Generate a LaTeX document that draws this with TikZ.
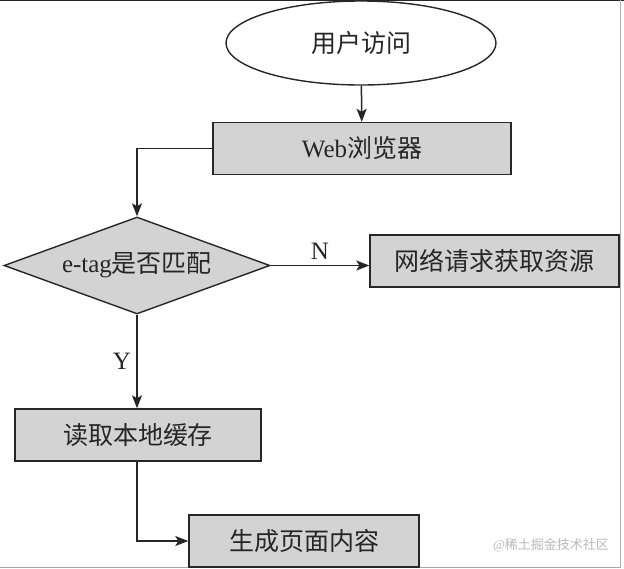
\documentclass[tikz,border=0pt]{standalone}
\usepackage{fontspec}
\usepackage{tikz}
\usetikzlibrary{shapes.geometric,arrows.meta}
\setmainfont{Liberation Serif}
\newfontfamily\cjk{Noto Sans CJK SC}
\definecolor{boxgray}{HTML}{D3D3D3}
\definecolor{linegray}{HTML}{262626}

\begin{document}
\begin{tikzpicture}[x=1pt,y=-1pt,
    every node/.style={font=\fontsize{25}{30}\selectfont,text=linegray},
    procbox/.style={shape=rectangle,draw=linegray,fill=boxgray,line width=1.4pt,minimum height=52pt},
    decision/.style={shape=diamond,draw=linegray,fill=boxgray,line width=1.4pt,aspect=2.74,inner sep=0pt,minimum width=266pt,minimum height=97pt},
    startnode/.style={shape=ellipse,draw=linegray,line width=1.4pt,minimum width=270pt,minimum height=84pt},
    flow/.style={draw=linegray,line width=1.5pt,-{Stealth[length=13pt,width=10pt,inset=3pt]}}]
      \useasboundingbox (0,0) rectangle (624,568);
      % frame of the picture
      \draw[line width=1.5pt,linegray] (0,0.5) -- (624,0.5);
      \draw[line width=1pt,gray!60] (620,0) -- (620,568);
      \draw[line width=1pt,gray!70] (0,567.5) -- (620,567.5);

      \node[startnode](visit) at (361,43) {\cjk 用户访问};
      \node[procbox,minimum width=298pt](web) at (362,148.5) {Web{\cjk 浏览器}};
      \node[decision](match) at (137,265.5) {e-tag{\cjk 是否匹配}};
      \node[procbox,minimum width=249pt](fetch) at (494.5,261) {\cjk 网络请求获取资源};
      \node[procbox,minimum width=246pt](cache) at (138,435) {\cjk 读取本地缓存};
      \node[procbox,minimum width=230pt](page) at (304,541) {\cjk 生成页面内容};

      \path [flow] (visit) -- (web);
      \path [flow] (web.west) -| (match.north);
      \path [flow] (match.east) -- node[above,yshift=2pt] {N} (match.east -| fetch.west);
      \path [flow] (match.south) -- node[left,xshift=-2pt] {Y} (match.south |- cache.north);
      \path [flow] (match.south |- cache.south) |- (page.west);

      \node[font=\fontsize{13}{15}\selectfont,text=gray!55](mark) at (551,545) {@{\cjk 稀土掘金技术社区}};
\end{tikzpicture}
\end{document}
